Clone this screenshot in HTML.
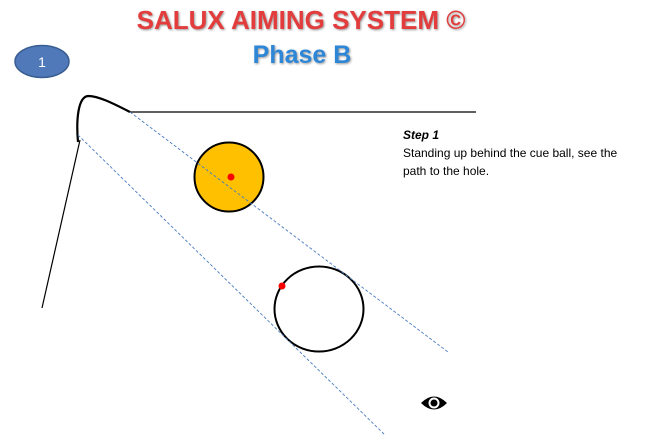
<!DOCTYPE html>
<html><head><style>
body{margin:0;width:649px;height:448px;background:#fff;overflow:hidden;position:relative;font-family:"Liberation Sans",sans-serif}
.t{position:absolute;left:0;width:600px;text-align:center;font-weight:bold}
</style></head><body>
<div class="t" style="top:5px;left:0;width:602px;font-size:26px;color:#e23c3c;text-shadow:1px 1px 2px #999">SALUX AIMING SYSTEM ©</div>
<div class="t" style="top:41px;left:0;width:604px;font-size:25px;color:#2e86d6;text-shadow:1px 1px 2px #999">Phase B</div>
<svg width="649" height="448" style="position:absolute;left:0;top:0">
<ellipse cx="42" cy="61.5" rx="27" ry="16" fill="#4f79b8" stroke="#3a5d91" stroke-width="1.5"/>
<text x="42" y="67" font-family="Liberation Sans" font-size="14" fill="#fff" text-anchor="middle">1</text>
<path d="M78,142 C76,120 78,97 88,96 C100,96 118,106 130,112" fill="none" stroke="#000" stroke-width="2.2"/>
<line x1="130" y1="112" x2="476" y2="112" stroke="#000" stroke-width="1.2"/>
<line x1="80" y1="140" x2="42" y2="308" stroke="#000" stroke-width="1.2"/>
<circle cx="229" cy="177" r="34.5" fill="#ffc000" stroke="#000" stroke-width="2"/>
<ellipse cx="319" cy="309" rx="44.5" ry="42.5" fill="#fff" stroke="#000" stroke-width="2"/>
<line x1="130" y1="112" x2="448" y2="352" stroke="#4a7cc0" stroke-width="0.9" stroke-dasharray="3,2"/>
<line x1="78" y1="135" x2="385" y2="435" stroke="#4a7cc0" stroke-width="0.9" stroke-dasharray="3,2"/>
<circle cx="231" cy="177" r="3.5" fill="#f00"/>
<circle cx="282" cy="286" r="3.5" fill="#f00"/>
<g transform="translate(434,403)">
<path d="M-13,0 Q0,-13 13,0 Q0,13 -13,0Z" fill="#000"/>
<circle r="5.5" fill="#fff"/><circle r="3.5" fill="#000"/>
</g>
<text x="403" y="139" font-family="Liberation Sans" font-size="12" font-weight="bold" font-style="italic">Step 1</text>
<text x="403" y="157" font-family="Liberation Sans" font-size="12">Standing up behind the cue ball, see the</text>
<text x="403" y="175" font-family="Liberation Sans" font-size="12">path to the hole.</text>
</svg>
</body></html>
